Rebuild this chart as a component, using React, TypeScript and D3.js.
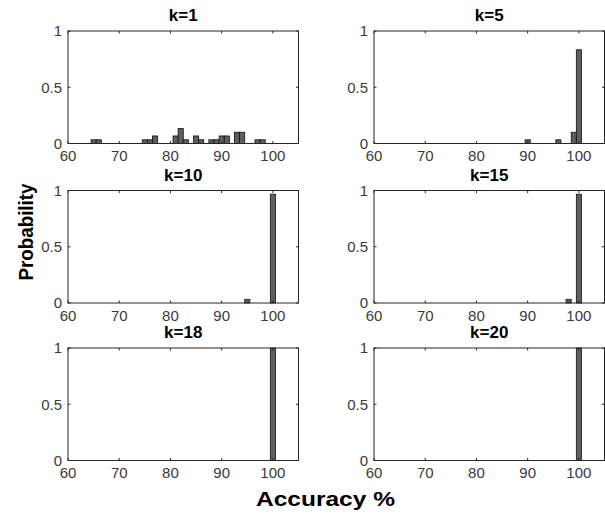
import React, { useEffect, useRef } from "react";
import * as d3 from "d3";

// histogram bins (accuracy %, bin width 1) and probabilities per k
const titles = ["k=1", "k=5", "k=10", "k=15", "k=18", "k=20"];

const k1Acc = [65, 66, 75, 76, 77, 81, 82, 83, 85, 86, 88, 89, 90, 91, 93, 94, 97, 98];
const k1Prob = [0.033, 0.033, 0.033, 0.033, 0.067, 0.067, 0.133, 0.033, 0.067, 0.033, 0.033, 0.033, 0.067, 0.067, 0.1, 0.1, 0.033, 0.033];

const k5Acc = [90, 96, 99, 100];
const k5Prob = [0.033, 0.033, 0.1, 0.833];

const k10Acc = [95, 100];
const k10Prob = [0.033, 0.967];

const k15Acc = [98, 100];
const k15Prob = [0.033, 0.967];

const k18Acc = [100];
const k18Prob = [1];

const k20Acc = [100];
const k20Prob = [1];

const xTicks = [60, 70, 80, 90, 100];
const yTicks = [0, 0.5, 1];
const yTickLabels = ["0", "0.5", "1"];

const panelsAcc = [k1Acc, k5Acc, k10Acc, k15Acc, k18Acc, k20Acc];
const panelsProb = [k1Prob, k5Prob, k10Prob, k15Prob, k18Prob, k20Prob];

function App() {
    const svgRef = useRef<SVGSVGElement>(null);

    useEffect(() => {
        const svg = d3.select(svgRef.current);
        svg.selectAll("*").remove();

        const font = "'Liberation Sans', Arial, Helvetica, sans-serif";
        const axisColor = "#262626";
        const labelColor = "#3a3a3a";
        const colX = [68, 374];
        const rowY = [31, 190.5, 348];
        const pw = 230.5, ph = 112.5;

        panelsAcc.forEach((accs, i) => {
            const probs = panelsProb[i];
            const left = colX[i % 2], top = rowY[Math.floor(i / 2)];

            const x = d3.scaleLinear().domain([60, 105]).range([0, pw]);
            const y = d3.scaleLinear().domain([0, 1]).range([ph, 0]);

            const g = svg.append("g")
                .attr("transform", `translate(${left}, ${top})`);

            g.append("rect")
                .attr("width", pw).attr("height", ph)
                .attr("fill", "#fff");

            // bars
            g.selectAll("rect.bar")
                .data(accs.map((a, j) => ({ a, p: probs[j] })))
                .join("rect")
                .attr("class", "bar")
                .attr("x", d => x(d.a - 0.5))
                .attr("width", d => x(d.a + 0.5) - x(d.a - 0.5))
                .attr("y", d => y(d.p))
                .attr("height", d => y(0) - y(d.p))
                .attr("fill", "#5e5e5e")
                .attr("stroke", "#111")
                .attr("stroke-width", 0.8);

            // box
            g.append("rect")
                .attr("width", pw).attr("height", ph)
                .attr("fill", "none")
                .attr("stroke", axisColor)
                .attr("stroke-width", 1);

            const tl = 2.5;
            // ticks, inside on all four sides
            xTicks.forEach(t => {
                g.append("line").attr("x1", x(t)).attr("x2", x(t)).attr("y1", ph).attr("y2", ph - tl)
                    .attr("stroke", axisColor);
                g.append("line").attr("x1", x(t)).attr("x2", x(t)).attr("y1", 0).attr("y2", tl)
                    .attr("stroke", axisColor);
                g.append("text")
                    .attr("x", x(t)).attr("y", ph + 17.5)
                    .attr("text-anchor", "middle")
                    .attr("font-family", font).attr("font-size", "15px")
                    .attr("fill", labelColor)
                    .text(t);
            });
            yTicks.forEach((t, j) => {
                g.append("line").attr("x1", 0).attr("x2", tl).attr("y1", y(t)).attr("y2", y(t))
                    .attr("stroke", axisColor);
                g.append("line").attr("x1", pw).attr("x2", pw - tl).attr("y1", y(t)).attr("y2", y(t))
                    .attr("stroke", axisColor);
                g.append("text")
                    .attr("x", -6).attr("y", y(t) + 5.4)
                    .attr("text-anchor", "end")
                    .attr("font-family", font).attr("font-size", "15px")
                    .attr("fill", labelColor)
                    .text(yTickLabels[j]);
            });

            g.append("text")
                .attr("x", pw / 2).attr("y", -10)
                .attr("text-anchor", "middle")
                .attr("font-family", font).attr("font-size", "17px")
                .attr("font-weight", "bold")
                .attr("fill", "#000")
                .text(titles[i]);
        });

        svg.append("text")
            .attr("x", 325.5).attr("y", 506)
            .attr("text-anchor", "middle")
            .attr("font-family", font).attr("font-size", "21px")
            .attr("font-weight", "bold")
            .attr("textLength", 139).attr("lengthAdjust", "spacingAndGlyphs")
            .text("Accuracy %");

        svg.append("text")
            .attr("transform", "translate(33, 232) rotate(-90)")
            .attr("text-anchor", "middle")
            .attr("font-family", font).attr("font-size", "21px")
            .attr("font-weight", "bold")
            .attr("textLength", 97).attr("lengthAdjust", "spacingAndGlyphs")
            .text("Probability");
    }, []);

    return (
        <svg ref={svgRef} width={605} height={514}
            style={{ position: "absolute", left: 0, top: 0, background: "#fff" }} />
    );
}

export default App;
